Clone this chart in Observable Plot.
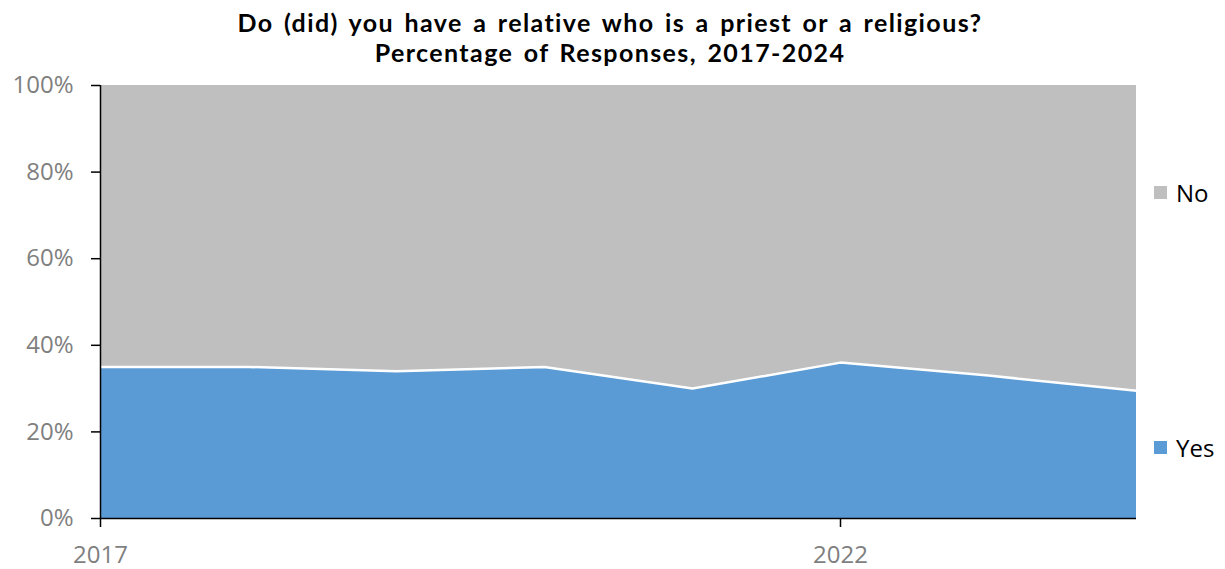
<!DOCTYPE html>
<html>
<head>
<meta charset="utf-8">
<script src="https://cdn.jsdelivr.net/npm/d3@7"></script>
<script src="https://cdn.jsdelivr.net/npm/@observablehq/plot@0.6"></script>
<style>
  html, body { margin: 0; padding: 0; background: #fff; }
  #wrap { position: relative; width: 1225px; height: 569px; overflow: hidden; font-family: "Open Sans", sans-serif; }
  #title { height: 50px; box-sizing: border-box; padding-top: 7px; text-align: center; font-family: Lato, sans-serif; font-weight: bold; font-size: 25px; line-height: 30px; color: #000; width: 1220px; letter-spacing: 1.4px; word-spacing: 3px; }
  #title div { height: 30px; }
  .leg { position: absolute; display: flex; align-items: center; font-size: 24px; color: #000; height: 30px; }
  .sw { width: 13px; height: 13px; margin-right: 9px; }
</style>
</head>
<body>
<div id="wrap">
  <div id="title"><div>Do (did) you have a relative who is a priest or a religious?</div><div>Percentage of Responses, 2017-2024</div></div>
  <div id="chart"></div>
  <div class="leg" style="left:1154px; top:177px;"><div class="sw" style="background:#BFBFBF"></div>No</div>
  <div class="leg" style="left:1154px; top:432px;"><div class="sw" style="background:#5B9BD5"></div>Yes</div>
</div>
<script>
const years = [2017, 2018, 2019, 2020, 2021, 2022, 2023, 2024];
const yesValues = [35, 35, 34, 35, 30, 36, 33, 29.5];
const noValues = [65, 65, 66, 65, 70, 64, 67, 70.5];
const answers = ["Yes", "No"];
const answerColors = ["#5B9BD5", "#BFBFBF"];
const xTicks = [2017, 2022];
const yTicks = [0, 20, 40, 60, 80, 100];

const data = [];
years.forEach((yr, i) => {
  data.push({year: yr, answer: "Yes", value: yesValues[i]});
  data.push({year: yr, answer: "No", value: noValues[i]});
});
const yesData = years.map((yr, i) => ({year: yr, value: yesValues[i]}));

const chart = Plot.plot({
  width: 1225,
  height: 519,
  marginTop: 35,
  marginBottom: 51,
  marginLeft: 100,
  marginRight: 89,
  style: {fontFamily: "Open Sans, sans-serif", fontSize: "24px", background: "transparent", overflow: "visible"},
  x: {type: "linear", domain: [2017, 2024]},
  y: {domain: [0, 100]},
  color: {domain: answers, range: answerColors},
  marks: [
    Plot.areaY(data, {x: "year", y: "value", fill: "answer", order: answers}),
    Plot.lineY(yesData, {x: "year", y: "value", stroke: "white", strokeWidth: 2.5}),
    Plot.ruleY([0], {stroke: "black", strokeWidth: 1.5}),
    Plot.ruleX([2017], {stroke: "black", strokeWidth: 1.5}),
    Plot.axisX({ticks: xTicks, tickFormat: d => String(d), tickSize: 9, tickPadding: 18, stroke: "black", fill: "#7F7F7F", label: null, strokeWidth: 1.5}),
    Plot.axisY({ticks: yTicks, tickFormat: d => d + "%", tickSize: 9, tickPadding: 18, stroke: "black", fill: "#7F7F7F", label: null, strokeWidth: 1.5})
  ]
});
document.getElementById("chart").appendChild(chart);
</script>
</body>
</html>
